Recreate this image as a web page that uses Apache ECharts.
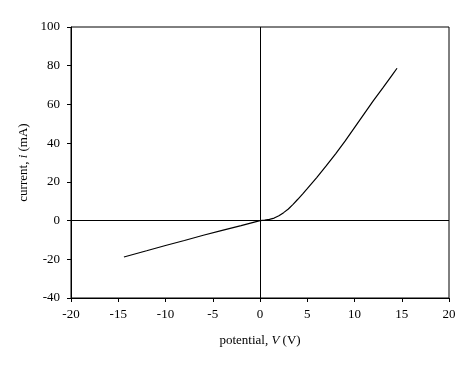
<!DOCTYPE html>
<html><head><meta charset="utf-8">
<script src="https://cdn.jsdelivr.net/npm/echarts@6/dist/echarts.min.js"></script>
<style>html,body{margin:0;padding:0;background:#fff}#c{width:475px;height:368px}</style>
</head><body><div id="c"></div>
<script>
const potential = [-14.4,-12,-10,-8,-6,-4,-2,-1,0,0.5,1,1.5,2,2.5,3,3.5,4,4.5,5,6,7,8,9,10,11,12,13,14,14.5];
const current   = [-18.8,-15.6,-12.9,-10.3,-7.6,-5.1,-2.6,-1.3,0,0.2,0.6,1.3,2.5,4.1,6.0,8.4,11.0,13.7,16.5,22.2,28.2,34.5,41,48,55,62,68.6,75.3,78.7];
const xRange = [-20, 20, 5];
const yRange = [-40, 100, 20];
const xTitle = 'potential, {i|V} (V)';
const yTitle = 'current, {i|i} (mA)';

const font = 'Liberation Serif';
const chart = echarts.init(document.getElementById('c'));
const pts = potential.map((v, k) => [v, current[k]]);
chart.setOption({
  animation: false,
  grid: {left: 71, right: 26, top: 27, bottom: 70, show: true, borderColor: '#000', borderWidth: 1},
  xAxis: {
    type: 'value', min: xRange[0], max: xRange[1], interval: xRange[2],
    axisLine: {onZero: false, lineStyle: {color: '#000', width: 1}},
    axisTick: {show: true, inside: false, length: 4, lineStyle: {color: '#000'}},
    axisLabel: {color: '#000', fontFamily: font, fontSize: 13, margin: 10},
    splitLine: {show: false},
    name: xTitle, nameLocation: 'middle', nameGap: 36,
    nameTextStyle: {color: '#000', fontFamily: font, fontSize: 13, rich: {i: {fontStyle: 'italic', fontFamily: font, fontSize: 13, color: '#000'}}}
  },
  yAxis: {
    type: 'value', min: yRange[0], max: yRange[1], interval: yRange[2],
    axisLine: {show: true, onZero: false, lineStyle: {color: '#000', width: 1}},
    axisTick: {show: true, inside: false, length: 4, lineStyle: {color: '#000'}},
    axisLabel: {color: '#000', fontFamily: font, fontSize: 13, margin: 11},
    splitLine: {show: false},
    name: yTitle, nameLocation: 'middle', nameGap: 28, nameRotate: 90,
    nameTextStyle: {color: '#000', fontFamily: font, fontSize: 13, rich: {i: {fontStyle: 'italic', fontFamily: font, fontSize: 13, color: '#000'}}}
  },
  series: [{
    type: 'line', data: pts, showSymbol: false, smooth: false,
    lineStyle: {color: '#000', width: 1.2},
    markLine: {
      silent: true, symbol: ['none', 'none'], label: {show: false},
      lineStyle: {color: '#000', width: 1, type: 'solid'},
      data: [{xAxis: 0}, {yAxis: 0}]
    }
  }]
});
</script></body></html>
